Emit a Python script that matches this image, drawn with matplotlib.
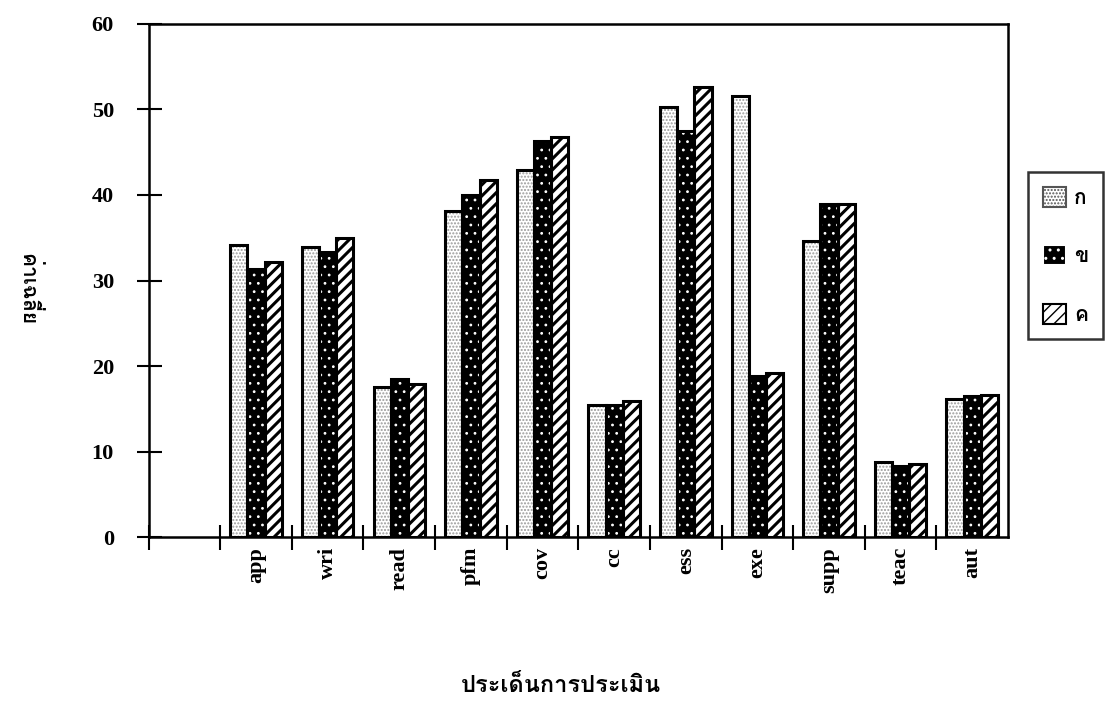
import numpy as np
import matplotlib
matplotlib.use("Agg")
import matplotlib.pyplot as plt
from matplotlib import font_manager
from matplotlib.ft2font import FT2Font
from matplotlib.patches import Patch

# data
categories = ['app', 'wri', 'read', 'pfm', 'cov', 'cc', 'ess', 'exe', 'supp', 'teac', 'aut']
group_k = [34.2, 33.9, 17.5, 38.1, 42.9, 15.5, 50.3, 51.6, 34.6, 8.8, 16.1]
group_kh = [31.3, 33.3, 18.5, 40.0, 46.3, 15.5, 47.5, 18.8, 38.9, 8.3, 16.5]
group_kk = [32.2, 35.0, 17.9, 41.8, 46.8, 15.9, 52.6, 19.2, 39.0, 8.6, 16.6]
series_names = ['ก', 'ข', 'ค']
yticks = [0, 10, 20, 30, 40, 50, 60]


def thai_font():
    # pick the first installed font that has Thai glyphs
    for f in font_manager.fontManager.ttflist:
        try:
            if ord('ก') in FT2Font(f.fname).get_charmap():
                return f.name
        except Exception:
            pass
    return 'DejaVu Sans'


THAI = thai_font()

fig = plt.figure(figsize=(11.09, 7.23), dpi=100)
ax = fig.add_axes([0.134, 0.257, 0.775, 0.71])

x = np.arange(1, len(categories) + 1)
w = 0.24
styles = [
    dict(face='white', hatch='.....', hcol='#9a9a9a', hlw=1.0),
    dict(face='black', hatch='..', hcol='white', hlw=0.8),
    dict(face='white', hatch='///', hcol='black', hlw=2.2),
]
for i, vals in enumerate([group_k, group_kh, group_kk]):
    s = styles[i]
    pos = x + (i - 1) * w
    with plt.rc_context({'hatch.linewidth': s['hlw']}):
        ax.bar(pos, vals, w, color=s['face'], hatch=s['hatch'], edgecolor=s['hcol'],
               linewidth=0, zorder=2)
    ax.bar(pos, vals, w, fill=False, edgecolor='black', linewidth=2.2, zorder=3)

ax.set_xlim(-0.5, len(categories) + 0.5)
ax.set_ylim(0, 60)
ax.set_yticks(yticks)
ax.set_xticks(np.arange(-0.5, len(categories) + 0.5, 1.0))
ax.set_xticklabels([])
ax.set_xticks(x, minor=True)
ax.set_xticklabels(categories, minor=True, rotation=90, fontfamily='Liberation Serif',
                   fontweight='bold', fontsize=16, va='top')
ax.tick_params(axis='x', which='major', direction='inout', length=18, width=1.5)
ax.tick_params(axis='x', which='minor', length=0, pad=7)
ax.tick_params(axis='y', direction='inout', length=18, width=1.5, pad=16)
for lab in ax.get_yticklabels():
    lab.set_fontfamily('Liberation Serif')
    lab.set_fontweight('bold')
    lab.set_fontsize(16)
for sp in ax.spines.values():
    sp.set_linewidth(1.8)

fig.text(0.025, 0.60, 'ค่าเฉลี่ย', rotation=270, fontfamily=THAI, fontsize=15,
         fontweight='bold', ha='center', va='center')
fig.text(0.506, 0.052, 'ประเด็นการประเมิน', fontfamily=THAI, fontsize=17,
         fontweight='bold', ha='center', va='center')

handles = [
    Patch(facecolor='white', hatch='.....', edgecolor='#555555', linewidth=1.5),
    Patch(facecolor='black', hatch='..', edgecolor='white', linewidth=1.5),
    Patch(facecolor='white', hatch='///', edgecolor='black', linewidth=1.5),
]
leg = fig.legend(handles, series_names, loc='upper left', bbox_to_anchor=(0.927, 0.762),
                 prop={'family': THAI, 'size': 15, 'weight': 'bold'}, frameon=True,
                 fancybox=False, edgecolor='black', handlelength=1.1, handleheight=1.1,
                 labelspacing=1.8, borderpad=0.7, handletextpad=0.4, borderaxespad=0)
leg.get_frame().set_linewidth(1.8)

fig.savefig('out.png', dpi=100)
